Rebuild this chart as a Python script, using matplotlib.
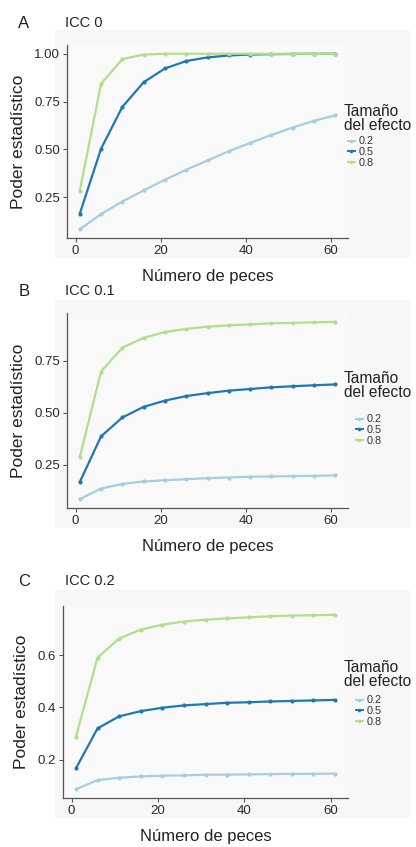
import matplotlib
matplotlib.use("Agg")
import matplotlib.pyplot as plt
from matplotlib.lines import Line2D
from matplotlib.patches import Rectangle

plt.rcParams['font.family'] = ['Liberation Sans', 'DejaVu Sans']

x_peces = [1, 6, 11, 16, 21, 26, 31, 36, 41, 46, 51, 56, 61]
efectos = ["0.2", "0.5", "0.8"]
colores = ["#a6cee3", "#1f78b4", "#b2df8a"]

# ICC 0
a_02 = [0.082, 0.161, 0.227, 0.285, 0.341, 0.393, 0.442, 0.490, 0.533, 0.575, 0.614, 0.649, 0.678]
a_05 = [0.163, 0.503, 0.722, 0.851, 0.923, 0.962, 0.981, 0.991, 0.996, 0.998, 0.999, 1.0, 1.0]
a_08 = [0.283, 0.843, 0.972, 0.996, 1.0, 1.0, 1.0, 1.0, 1.0, 1.0, 1.0, 1.0, 1.0]
# ICC 0.1
b_02 = [0.084, 0.135, 0.157, 0.169, 0.175, 0.180, 0.185, 0.188, 0.192, 0.193, 0.195, 0.196, 0.198]
b_05 = [0.166, 0.386, 0.477, 0.528, 0.558, 0.580, 0.594, 0.606, 0.614, 0.622, 0.627, 0.632, 0.636]
b_08 = [0.287, 0.698, 0.813, 0.860, 0.888, 0.903, 0.914, 0.920, 0.925, 0.930, 0.932, 0.935, 0.937]
# ICC 0.2
c_02 = [0.087, 0.122, 0.131, 0.136, 0.139, 0.140, 0.143, 0.143, 0.144, 0.145, 0.146, 0.146, 0.147]
c_05 = [0.167, 0.320, 0.366, 0.386, 0.399, 0.408, 0.413, 0.418, 0.420, 0.423, 0.425, 0.427, 0.429]
c_08 = [0.288, 0.591, 0.664, 0.698, 0.717, 0.729, 0.736, 0.741, 0.745, 0.749, 0.752, 0.753, 0.755]

paneles = [
    ("A", "ICC 0", [a_02, a_05, a_08], [0.25, 0.50, 0.75, 1.00], ["0.25", "0.50", "0.75", "1.00"]),
    ("B", "ICC 0.1", [b_02, b_05, b_08], [0.25, 0.50, 0.75], ["0.25", "0.50", "0.75"]),
    ("C", "ICC 0.2", [c_02, c_05, c_08], [0.2, 0.4, 0.6], ["0.2", "0.4", "0.6"]),
]
x_ticks = [0, 20, 40, 60]

W, H = 416, 847
fig = plt.figure(figsize=(W / 100, H / 100), dpi=100)
fig.patch.set_facecolor("white")

# layout in pixels
cajas = [(67, 45, 348, 238), (67, 313, 348, 508), (63, 606, 348, 798)]
fondos = [(55, 30, 410, 258), (55, 300, 410, 528), (55, 590, 410, 818)]
tops = [32, 300, 590]
leg_title_top = [104, 371, 660]
leg_center = [152, 430, 711]
leg_left = [348, 356, 356]

for i, (letra, titulo, series, yt, ytl) in enumerate(paneles):
    l, t, r, b = cajas[i]
    fl, ft, fr, fb = fondos[i]
    fig.patches.append(Rectangle((fl / W, 1 - fb / H), (fr - fl) / W, (fb - ft) / H,
                                 transform=fig.transFigure, facecolor="#f7f7f7",
                                 edgecolor="none", zorder=-1))
    ax = fig.add_axes([l / W, 1 - b / H, (r - l) / W, (b - t) / H])
    ax.set_zorder(2)
    ax.set_facecolor("#f9f9f9")
    for serie, col in zip(series, colores):
        ax.plot(x_peces, serie, color=col, lw=1.6, marker="o", ms=3.0,
                markeredgewidth=0, solid_capstyle="round")
    ax.margins(x=0.05, y=0.05)
    ax.set_xticks(x_ticks)
    ax.set_yticks(yt)
    ax.set_yticklabels(ytl)
    for s in ["top", "right"]:
        ax.spines[s].set_visible(False)
    for s in ["left", "bottom"]:
        ax.spines[s].set_color("#555555")
        ax.spines[s].set_linewidth(0.9)
    ax.tick_params(axis="both", labelsize=9.5, colors="#555555", labelcolor="#2a2a2a",
                   length=3, width=0.8, pad=2)
    ax.set_xlabel("Número de peces", fontsize=12, color="#222222", labelpad=9)
    ax.set_ylabel("Poder estadístico", fontsize=12.5, color="#222222", labelpad=6)
    fig.text(24 / W, 1 - (tops[i] - 9) / H, letra, fontsize=12, color="#222222",
             ha="center", va="center")
    fig.text(65 / W, 1 - (tops[i] - 9) / H, titulo, fontsize=10.5,
             color="#222222", ha="left", va="center")
    fig.text(344 / W, 1 - leg_title_top[i] / H, "Tamaño\ndel efecto", fontsize=11.2,
             color="#222222", ha="left", va="top", linespacing=0.88)
    handles = [Line2D([0], [0], color=c, lw=1.4, marker="o", ms=2.6, markeredgewidth=0)
               for c in colores]
    leg = fig.legend(handles, efectos, loc="center left",
                     bbox_to_anchor=(leg_left[i] / W, 1 - leg_center[i] / H),
                     bbox_transform=fig.transFigure, frameon=False, fontsize=7.8,
                     handlelength=0.6, handletextpad=0.4,
                     labelspacing=0.05, borderaxespad=0.0, borderpad=0.0)
    for txt in leg.get_texts():
        txt.set_color("#333333")

fig.savefig("out.png", dpi=100)
